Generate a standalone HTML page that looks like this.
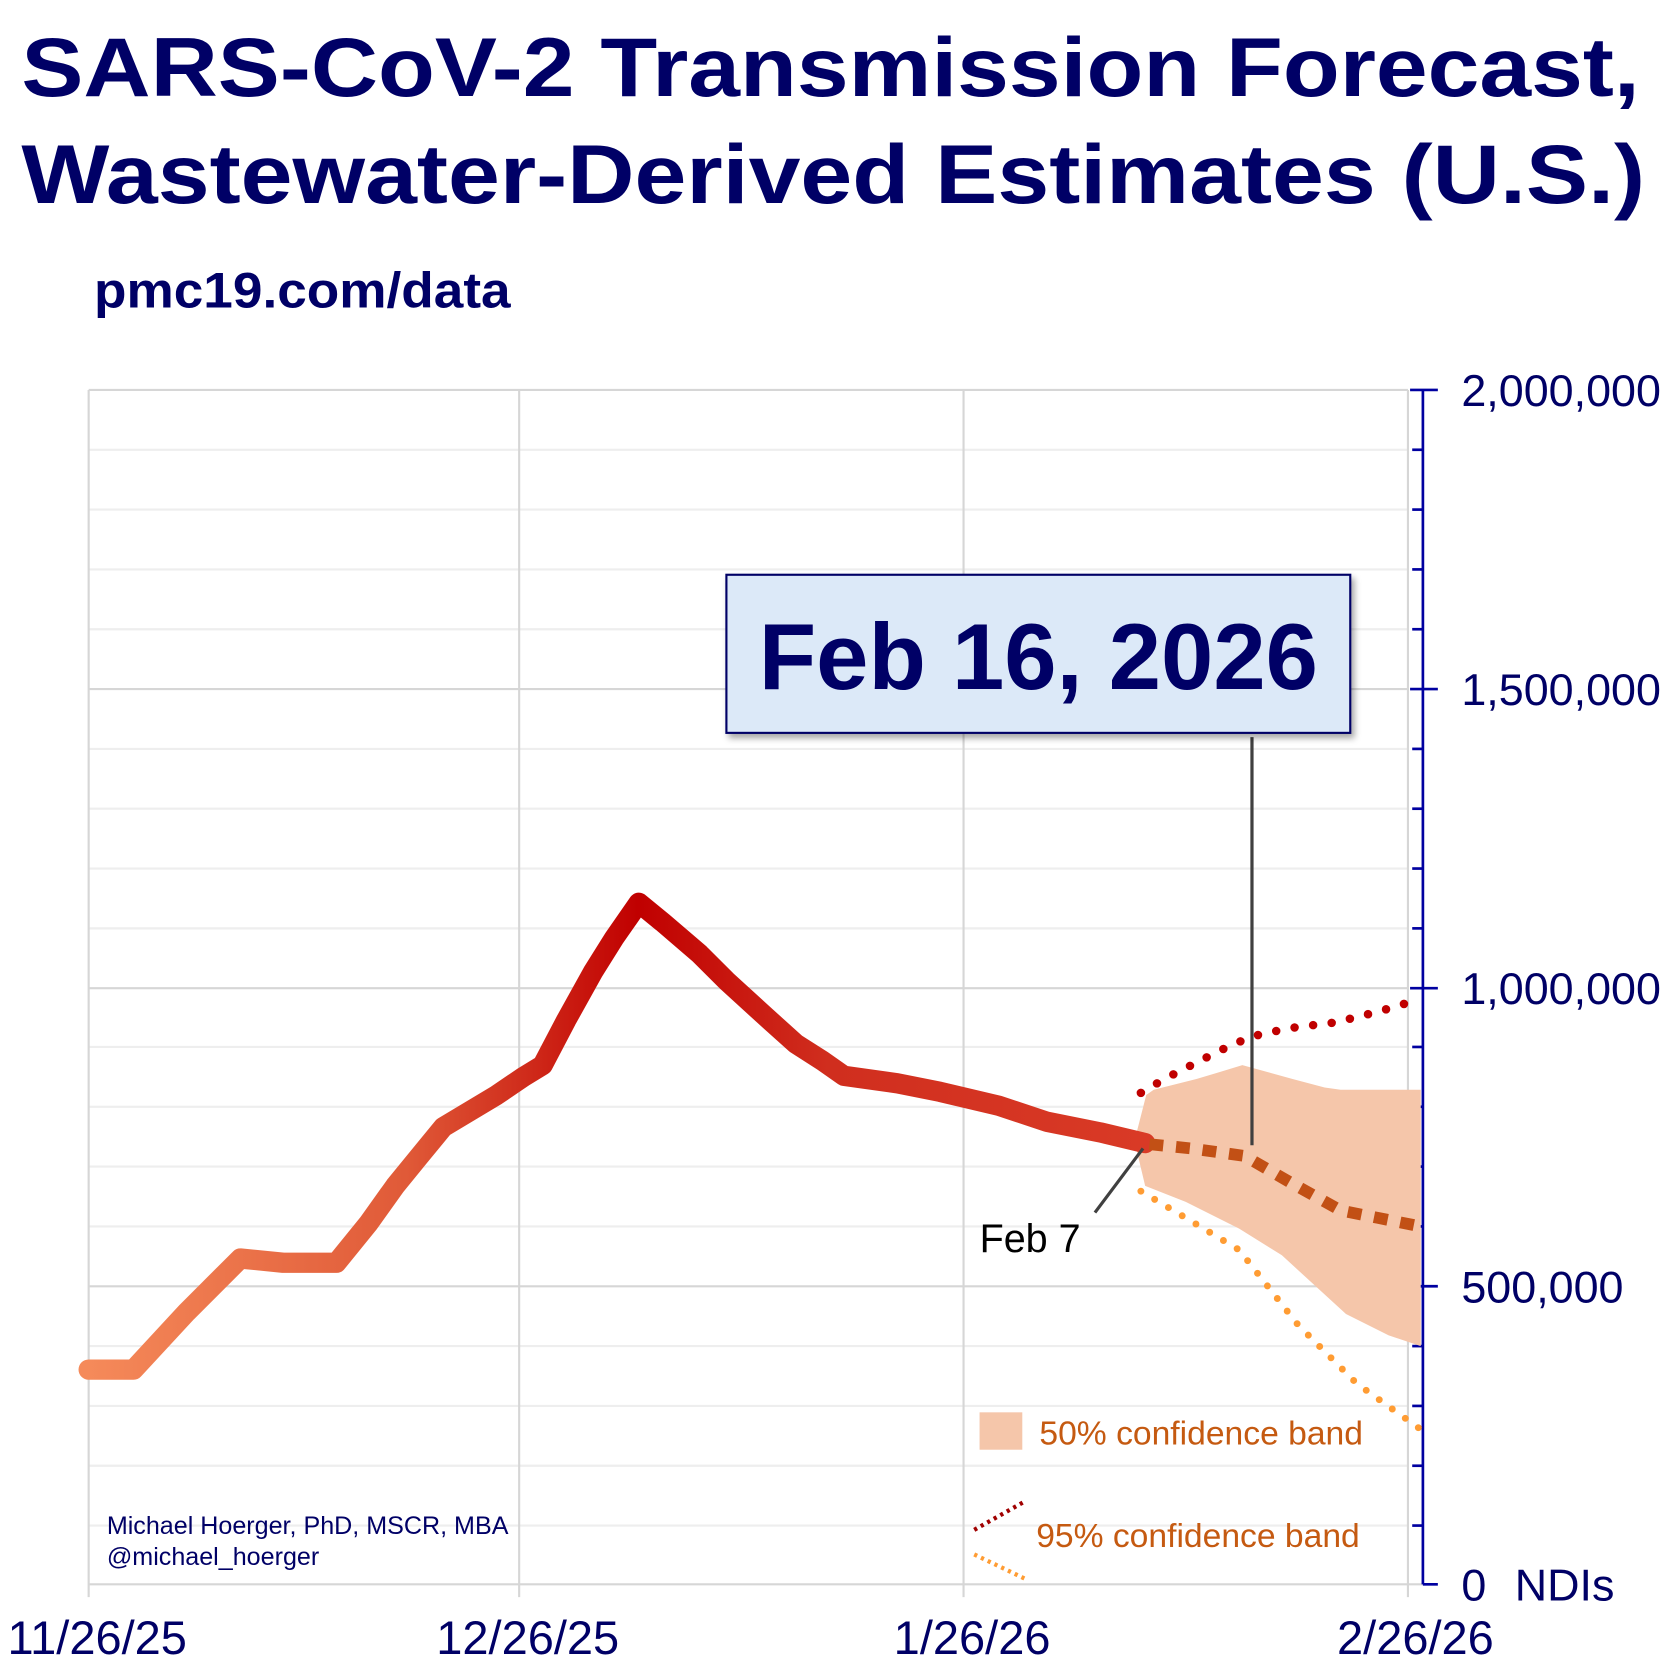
<!DOCTYPE html>
<html><head><meta charset="utf-8"><style>
html,body{margin:0;padding:0;background:#fff;}
svg{display:block;}
text{font-family:"Liberation Sans",Arial,sans-serif;}
</style></head><body>
<svg width="1675" height="1673" viewBox="0 0 1568 1566" preserveAspectRatio="none" xmlns="http://www.w3.org/2000/svg">
<defs>
<linearGradient id="g" x1="83" y1="0" x2="1072" y2="0" gradientUnits="userSpaceOnUse">
<stop offset="0" stop-color="#f58a5a"/>
<stop offset="0.3" stop-color="#e05a38"/>
<stop offset="0.52" stop-color="#c00000"/>
<stop offset="0.7" stop-color="#d02e1e"/>
<stop offset="1" stop-color="#d93a26"/>
</linearGradient>
<filter id="sh" x="-5%" y="-5%" width="115%" height="120%"><feDropShadow dx="3" dy="4" stdDeviation="3" flood-color="#000" flood-opacity="0.35"/></filter>
</defs>
<text x="20" y="90" font-size="78" font-weight="bold" fill="#000066" textLength="1515" lengthAdjust="spacingAndGlyphs">SARS-CoV-2 Transmission Forecast,</text>
<text x="20" y="190" font-size="78" font-weight="bold" fill="#000066" textLength="1520" lengthAdjust="spacingAndGlyphs">Wastewater-Derived Estimates (U.S.)</text>
<text x="88" y="288" font-size="47" font-weight="bold" fill="#000066" textLength="390" lengthAdjust="spacingAndGlyphs">pmc19.com/data</text>
<g stroke="#eeeeee" stroke-width="2">
<line x1="83" y1="421" x2="1318" y2="421"/><line x1="83" y1="477" x2="1318" y2="477"/><line x1="83" y1="533" x2="1318" y2="533"/><line x1="83" y1="589" x2="1318" y2="589"/>
<line x1="83" y1="701" x2="1318" y2="701"/><line x1="83" y1="757" x2="1318" y2="757"/><line x1="83" y1="813" x2="1318" y2="813"/><line x1="83" y1="869" x2="1318" y2="869"/>
<line x1="83" y1="980" x2="1318" y2="980"/><line x1="83" y1="1036" x2="1318" y2="1036"/><line x1="83" y1="1092" x2="1318" y2="1092"/><line x1="83" y1="1148" x2="1318" y2="1148"/>
<line x1="83" y1="1260" x2="1318" y2="1260"/><line x1="83" y1="1316" x2="1318" y2="1316"/><line x1="83" y1="1372" x2="1318" y2="1372"/><line x1="83" y1="1428" x2="1318" y2="1428"/>
</g>
<g stroke="#d6d6d6" stroke-width="2">
<line x1="83" y1="365" x2="1318" y2="365"/><line x1="83" y1="645" x2="1318" y2="645"/><line x1="83" y1="925" x2="1318" y2="925"/><line x1="83" y1="1204" x2="1318" y2="1204"/><line x1="83" y1="1483" x2="1332" y2="1483"/>
<line x1="83" y1="365" x2="83" y2="1495"/><line x1="486" y1="365" x2="486" y2="1495"/><line x1="902" y1="365" x2="902" y2="1495"/><line x1="1318" y1="365" x2="1318" y2="1495"/>
</g>
<g stroke="#0000a0" stroke-width="2.5">
<line x1="1332" y1="365" x2="1332" y2="1483"/>
<line x1="1320" y1="365" x2="1346" y2="365"/><line x1="1320" y1="645" x2="1346" y2="645"/><line x1="1320" y1="925" x2="1346" y2="925"/><line x1="1320" y1="1204" x2="1346" y2="1204"/><line x1="1332" y1="1483" x2="1346" y2="1483"/>
<line x1="1322" y1="421" x2="1332" y2="421"/><line x1="1322" y1="477" x2="1332" y2="477"/><line x1="1322" y1="533" x2="1332" y2="533"/><line x1="1322" y1="589" x2="1332" y2="589"/>
<line x1="1322" y1="701" x2="1332" y2="701"/><line x1="1322" y1="757" x2="1332" y2="757"/><line x1="1322" y1="813" x2="1332" y2="813"/><line x1="1322" y1="869" x2="1332" y2="869"/>
<line x1="1322" y1="980" x2="1332" y2="980"/><line x1="1322" y1="1036" x2="1332" y2="1036"/><line x1="1322" y1="1092" x2="1332" y2="1092"/><line x1="1322" y1="1148" x2="1332" y2="1148"/>
<line x1="1322" y1="1260" x2="1332" y2="1260"/><line x1="1322" y1="1316" x2="1332" y2="1316"/><line x1="1322" y1="1372" x2="1332" y2="1372"/><line x1="1322" y1="1428" x2="1332" y2="1428"/>
</g>
<g font-size="42" fill="#000066">
<text x="1368" y="380">2,000,000</text><text x="1368" y="660">1,500,000</text><text x="1368" y="940">1,000,000</text><text x="1368" y="1219">500,000</text><text x="1368" y="1498">0</text><text x="1418" y="1498">NDIs</text>
<g text-anchor="middle" font-size="44"><text x="91" y="1548">11/26/25</text><text x="494" y="1548">12/26/25</text><text x="910" y="1548">1/26/26</text><text x="1325" y="1548">2/26/26</text></g>
</g>
<polygon fill="#f5c6aa" points="1062,1068 1073,1025 1080,1020 1120,1010 1140,1004 1163,997 1210,1010 1240,1018 1255,1020 1330,1020 1330,1260 1300,1250 1260,1230 1200,1175 1160,1150 1110,1125 1072,1110"/>
<polyline fill="none" stroke="#c00000" stroke-width="8" stroke-linecap="round" stroke-dasharray="0 17.5" points="1068,1023 1090,1010 1125,992 1155,977 1180,968 1210,962 1250,957 1290,947 1330,935"/>
<polyline fill="none" stroke="#ff9c33" stroke-width="6.5" stroke-linecap="round" stroke-dasharray="0 15" points="1068,1115 1110,1140 1160,1170 1215,1240 1270,1295 1330,1338"/>
<polyline fill="none" stroke="url(#g)" stroke-width="19" stroke-linecap="round" stroke-linejoin="round" points="83,1282 125,1282 175,1228 225,1178 265,1182 315,1182 345,1145 370,1110 392,1083 415,1055 440,1040 465,1025 490,1008 508,997 530,955 555,910 575,878 598,845 620,863 655,893 680,918 715,950 745,977 770,993 790,1007 840,1014 880,1022 935,1035 980,1050 1030,1060 1072,1070"/>
<polyline fill="none" stroke="#c25015" stroke-width="11" stroke-dasharray="13 12" points="1076,1071 1115,1075 1165,1082 1210,1108 1255,1133 1290,1140 1330,1148"/>
<line x1="1025" y1="1135" x2="1070" y2="1075" stroke="#404040" stroke-width="3"/>
<text x="917" y="1172" font-size="37" fill="#000">Feb 7</text>
<line x1="1172" y1="690" x2="1172" y2="1072" stroke="#404040" stroke-width="3"/>
<rect x="680" y="538" width="584" height="148" fill="#dce9f8" stroke="#000066" stroke-width="2" filter="url(#sh)"/>
<text x="972" y="645" font-size="88" font-weight="bold" fill="#000066" text-anchor="middle">Feb 16, 2026</text>
<rect x="917" y="1322" width="40" height="35" fill="#f5c6aa"/>
<text x="973" y="1352" font-size="31.5" fill="#c55a11">50% confidence band</text>
<line x1="912" y1="1432" x2="960" y2="1405" stroke="#a00000" stroke-width="4" stroke-dasharray="3 4"/>
<line x1="912" y1="1455" x2="960" y2="1478" stroke="#ff9c33" stroke-width="4" stroke-dasharray="3 4"/>
<text x="970" y="1448" font-size="31.5" fill="#c55a11">95% confidence band</text>
<text x="100" y="1436" font-size="23.5" fill="#000066">Michael Hoerger, PhD, MSCR, MBA</text>
<text x="100" y="1465" font-size="23.5" fill="#000066">@michael_hoerger</text>
</svg>
</body></html>
